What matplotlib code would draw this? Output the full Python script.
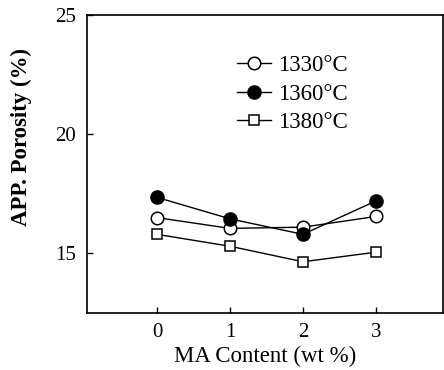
import matplotlib
matplotlib.use("Agg")
import matplotlib.pyplot as plt

plt.rcParams['font.family'] = ['Liberation Serif', 'DejaVu Serif']

ma_content = [0, 1, 2, 3]
por_1330 = [16.5, 16.05, 16.1, 16.55]
por_1360 = [17.35, 16.45, 15.8, 17.2]
por_1380 = [15.8, 15.3, 14.65, 15.05]
xticks = [0, 1, 2, 3]
yticks = [15, 20, 25]

fig = plt.figure(figsize=(4.44, 3.70), dpi=100)
ax = fig.add_axes([87/444, 1-313/370, (443-87)/444, (313-15)/370])

ax.plot(ma_content, por_1330, color='black', lw=1, marker='o', ms=9,
        mfc='white', mec='black', mew=1.1, label='1330\u00b0C')
ax.plot(ma_content, por_1360, color='black', lw=1, marker='o', ms=9.5,
        mfc='black', mec='black', label='1360\u00b0C')
ax.plot(ma_content, por_1380, color='black', lw=1, marker='s', ms=7,
        mfc='white', mec='black', mew=1.1, label='1380\u00b0C')

ax.set_xlim(-0.96, 3.92)
ax.set_ylim(12.5, 25)
ax.set_xticks(xticks)
ax.set_yticks(yticks)
ax.tick_params(direction='in', length=4, width=1, labelsize=15)
ax.tick_params(axis='x', pad=7)
ax.tick_params(axis='y', pad=8)
ax.set_xlabel('MA Content (wt %)', fontsize=16.5, labelpad=3)
ax.set_ylabel('APP. Porosity (%)', fontsize=16.5, fontweight='bold')
ax.yaxis.set_label_coords(-0.155, 0.59)

for s in ax.spines.values():
    s.set_linewidth(1.2)

leg = ax.legend(loc='upper left', bbox_to_anchor=(0.395, 0.895), frameon=False,
                fontsize=16.5, handlelength=1.5, handletextpad=0.3,
                labelspacing=0.32, borderaxespad=0)

fig.savefig('out.png', dpi=100)
